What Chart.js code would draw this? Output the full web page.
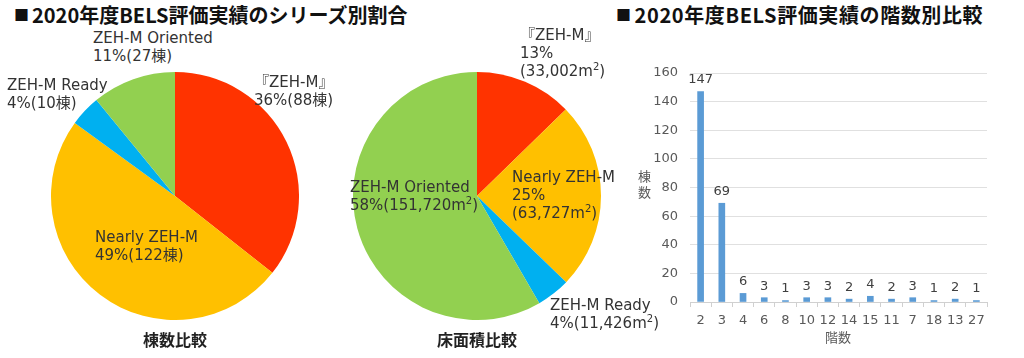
<!DOCTYPE html>
<html>
<head>
<meta charset="utf-8">
<script src="https://cdn.jsdelivr.net/npm/chart.js@4"></script>
<style>
  html,body{margin:0;padding:0;background:#fff;}
  #wrap{position:relative;width:1024px;height:358px;overflow:hidden;background:#fff;
    font-family:"DejaVu Sans","Noto Sans CJK JP",sans-serif;color:#333;}
  .abs{position:absolute;white-space:nowrap;}
  .ttl{font-family:"Noto Sans CJK JP",sans-serif;font-weight:bold;font-size:20px;line-height:26px;color:#111;}
  .sq{font-size:15px;vertical-align:2px;margin-right:3px;}
  .lbl{font-size:15px;line-height:18px;color:#333;}
  .sub{font-family:"Noto Sans CJK JP",sans-serif;font-weight:bold;font-size:16px;line-height:20px;color:#222;transform:translateX(-50%);}
  .ax{font-family:"Noto Sans CJK JP",sans-serif;font-size:13px;line-height:16px;color:#595959;}
  canvas{position:absolute;}
</style>
</head>
<body>
<div id="wrap">
  <div class="abs ttl" style="left:14px;top:2px;"><span class="sq">■</span>2020年度BELS評価実績のシリーズ別割合</div>
  <div class="abs ttl" style="left:616px;top:2px;letter-spacing:0.6px;"><span class="sq">■</span>2020年度BELS評価実績の階数別比較</div>

  <div style="position:absolute;left:51px;top:72px;width:248px;height:248px;"><canvas id="pie1"></canvas></div>
  <div style="position:absolute;left:353px;top:72px;width:248px;height:248px;"><canvas id="pie2"></canvas></div>
  <div style="position:absolute;left:620px;top:60px;width:380px;height:298px;"><canvas id="bar"></canvas></div>

  <div class="abs lbl" style="left:93px;top:29px;">ZEH-M Oriented<br>11%(27棟)</div>
  <div class="abs lbl" style="left:7px;top:76px;">ZEH-M Ready<br>4%(10棟)</div>
  <div class="abs lbl" style="left:254px;top:73px;">『ZEH-M』<br>36%(88棟)</div>
  <div class="abs lbl" style="left:95px;top:228px;">Nearly ZEH-M<br>49%(122棟)</div>
  <div class="abs sub" style="left:175px;top:329px;">棟数比較</div>

  <div class="abs lbl" style="left:520px;top:26px;">『ZEH-M』<br>13%<br>(33,002m<sup style="font-size:10px;line-height:0;">2</sup>)</div>
  <div class="abs lbl" style="left:512px;top:168px;">Nearly ZEH-M<br>25%<br>(63,727m<sup style="font-size:10px;line-height:0;">2</sup>)</div>
  <div class="abs lbl" style="left:350px;top:178px;">ZEH-M Oriented<br>58%(151,720m<sup style="font-size:10px;line-height:0;">2</sup>)</div>
  <div class="abs lbl" style="left:550px;top:296px;">ZEH-M Ready<br>4%(11,426m<sup style="font-size:10px;line-height:0;">2</sup>)</div>
  <div class="abs sub" style="left:477px;top:329px;">床面積比較</div>

  <div class="abs ax" style="left:638px;top:168px;line-height:16px;">棟<br>数</div>
  <div class="abs ax" style="left:825px;top:329px;">階数</div>
</div>
<script>
// ---- data ----
const seriesLabels = ['『ZEH-M』', 'Nearly ZEH-M', 'ZEH-M Ready', 'ZEH-M Oriented'];
const seriesColors = ['#FF3300', '#FFC000', '#00B0F0', '#92D050'];
const buildingCounts = [88, 122, 10, 27];
const floorAreas = [33002, 63727, 11426, 151720];

const floorCategories = ['2', '3', '4', '6', '8', '10', '12', '14', '15', '11', '7', '18', '13', '27'];
const floorBuildingCounts = [147, 69, 6, 3, 1, 3, 3, 2, 4, 2, 3, 1, 2, 1];
const yTicks = [0, 20, 40, 60, 80, 100, 120, 140, 160];

function pieConfig(values) {
  return {
    type: 'pie',
    data: { labels: seriesLabels, datasets: [{ data: values, backgroundColor: seriesColors, borderWidth: 0 }] },
    options: {
      responsive: true, maintainAspectRatio: false, animation: false,
      layout: { padding: 0 },
      plugins: { legend: { display: false }, tooltip: { enabled: false } }
    }
  };
}
new Chart(document.getElementById('pie1'), pieConfig(buildingCounts));
new Chart(document.getElementById('pie2'), pieConfig(floorAreas));

const valueLabels = {
  id: 'valueLabels',
  afterDatasetsDraw(chart) {
    const ctx = chart.ctx;
    const meta = chart.getDatasetMeta(0);
    ctx.save();
    ctx.font = '13px "DejaVu Sans", sans-serif';
    ctx.fillStyle = '#404040';
    ctx.textAlign = 'center';
    ctx.textBaseline = 'bottom';
    meta.data.forEach((bar, i) => {
      ctx.fillText(String(chart.data.datasets[0].data[i]), bar.x, bar.y - 5);
    });
    ctx.restore();
  }
};

new Chart(document.getElementById('bar'), {
  type: 'bar',
  data: {
    labels: floorCategories,
    datasets: [{ data: floorBuildingCounts, backgroundColor: '#5B9BD5', borderWidth: 0, barThickness: 6 }]
  },
  options: {
    responsive: true, maintainAspectRatio: false, animation: false,
    layout: { padding: { top: 13, right: 13, left: 0, bottom: 0 } },
    plugins: { legend: { display: false }, tooltip: { enabled: false } },
    scales: {
      x: {
        grid: { display: true, drawOnChartArea: false, drawTicks: true, tickLength: 5, color: '#D0D0D0', offset: true },
        border: { display: true, color: '#D0D0D0' },
        ticks: { color: '#595959', font: { size: 13, family: '"DejaVu Sans", sans-serif' }, padding: 6, maxRotation: 0, autoSkip: false },
        afterFit(scale) { scale.height = 56; }
      },
      y: {
        min: 0, max: 160,
        afterBuildTicks(scale) { scale.ticks = yTicks.map(v => ({ value: v })); },
        grid: { color: '#E0E0E0', drawTicks: false },
        border: { display: false },
        ticks: { color: '#595959', font: { size: 13, family: '"DejaVu Sans", sans-serif' }, padding: 12 },
        afterFit(scale) { scale.width = 70; scale.paddingTop = 0; scale.paddingBottom = 0; }
      }
    }
  },
  plugins: [valueLabels]
});
</script>
</body>
</html>
